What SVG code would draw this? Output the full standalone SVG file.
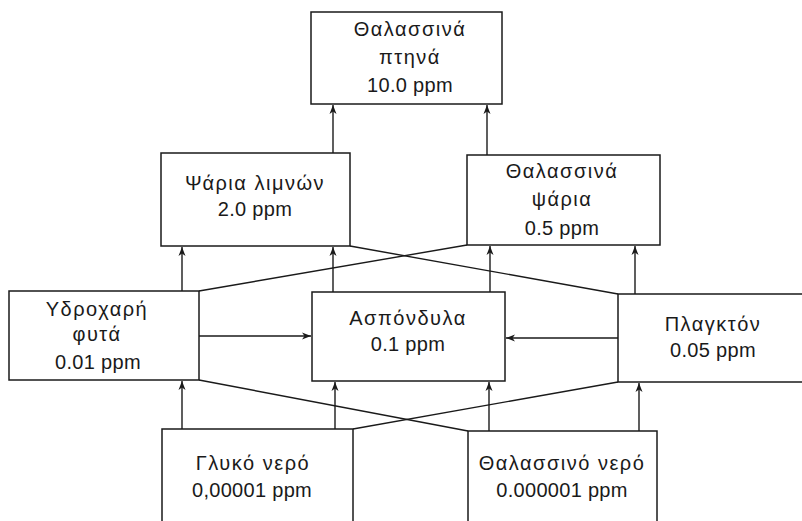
<svg xmlns="http://www.w3.org/2000/svg" width="802" height="521" viewBox="0 0 802 521">
<defs>
<style>
.box{fill:#fff;stroke:#1a1a1a;stroke-width:1.5}
.ln{fill:none;stroke:#1a1a1a;stroke-width:1.4}
.g{font-family:"Liberation Sans",Arial,sans-serif;font-size:20px;fill:#1a1a1a;text-anchor:middle;letter-spacing:1.5px}
.n{font-family:"Liberation Sans",Arial,sans-serif;font-size:20px;fill:#1a1a1a;text-anchor:middle;letter-spacing:0.3px}
</style>
<marker id="ah" markerWidth="10" markerHeight="8" refX="9" refY="4" orient="auto" markerUnits="userSpaceOnUse">
<path d="M0,0.5 L9,4 L0,7.5 L2.5,4 Z" fill="#1a1a1a"/>
</marker>
</defs>
<rect width="802" height="521" fill="#fff"/>
<g id="connectors">
<line class="ln" x1="333" y1="153" x2="333" y2="105" marker-end="url(#ah)"/>
<line class="ln" x1="487" y1="155" x2="487" y2="105" marker-end="url(#ah)"/>
<line class="ln" x1="182" y1="291" x2="182" y2="247" marker-end="url(#ah)"/>
<line class="ln" x1="333" y1="292" x2="333" y2="247" marker-end="url(#ah)"/>
<line class="ln" x1="490" y1="292" x2="490" y2="246" marker-end="url(#ah)"/>
<line class="ln" x1="635" y1="294" x2="635" y2="246" marker-end="url(#ah)"/>
<line class="ln" x1="199" y1="291" x2="467" y2="245"/>
<line class="ln" x1="350" y1="246" x2="618" y2="294"/>
<line class="ln" x1="199" y1="336" x2="311" y2="336" marker-end="url(#ah)"/>
<line class="ln" x1="618" y1="338" x2="506" y2="338" marker-end="url(#ah)"/>
<line class="ln" x1="182" y1="429" x2="182" y2="381" marker-end="url(#ah)"/>
<line class="ln" x1="335" y1="429" x2="335" y2="382" marker-end="url(#ah)"/>
<line class="ln" x1="489" y1="431" x2="489" y2="382" marker-end="url(#ah)"/>
<line class="ln" x1="639" y1="431" x2="639" y2="383" marker-end="url(#ah)"/>
<line class="ln" x1="199" y1="380" x2="468" y2="431"/>
<line class="ln" x1="353" y1="429" x2="618" y2="382"/>
</g>
<g id="thalassina-ptina">
<rect class="box" x="311" y="12" width="191" height="92"/>
<text class="g" x="410" y="36">Θαλασσινά</text>
<text class="g" x="410" y="64">πτηνά</text>
<text class="n" x="410" y="92">10.0 ppm</text>
</g>
<g id="psaria-limnon">
<rect class="box" x="161" y="153" width="189" height="93"/>
<text class="g" x="255" y="190">Ψάρια λιμνών</text>
<text class="n" x="255" y="216">2.0 ppm</text>
</g>
<g id="thalassina-psaria">
<rect class="box" x="467" y="155" width="193" height="90"/>
<text class="g" x="562" y="178">Θαλασσινά</text>
<text class="g" x="562" y="206">ψάρια</text>
<text class="n" x="562" y="235">0.5 ppm</text>
</g>
<g id="ydroxari-fyta">
<rect class="box" x="9" y="291" width="190" height="89"/>
<text class="g" x="97" y="316">Υδροχαρή</text>
<text class="g" x="97" y="341">φυτά</text>
<text class="n" x="98" y="369">0.01 ppm</text>
</g>
<g id="asponduła">
<rect class="box" x="312" y="292" width="193" height="89"/>
<text class="g" x="408" y="325">Ασπόνδυλα</text>
<text class="n" x="408" y="351">0.1 ppm</text>
</g>
<g id="plagkton">
<rect class="box" x="618" y="294" width="200" height="88"/>
<text class="g" x="713" y="331">Πλαγκτόν</text>
<text class="n" x="713" y="357">0.05 ppm</text>
</g>
<g id="glyko-nero">
<rect class="box" x="162" y="429" width="191" height="110"/>
<text class="g" x="253" y="470">Γλυκό νερό</text>
<text class="n" x="252" y="497">0,00001 ppm</text>
</g>
<g id="thalassino-nero">
<rect class="box" x="468" y="431" width="189" height="110"/>
<text class="g" x="562" y="470">Θαλασσινό νερό</text>
<text class="n" x="562" y="497">0.000001 ppm</text>
</g>
</svg>
